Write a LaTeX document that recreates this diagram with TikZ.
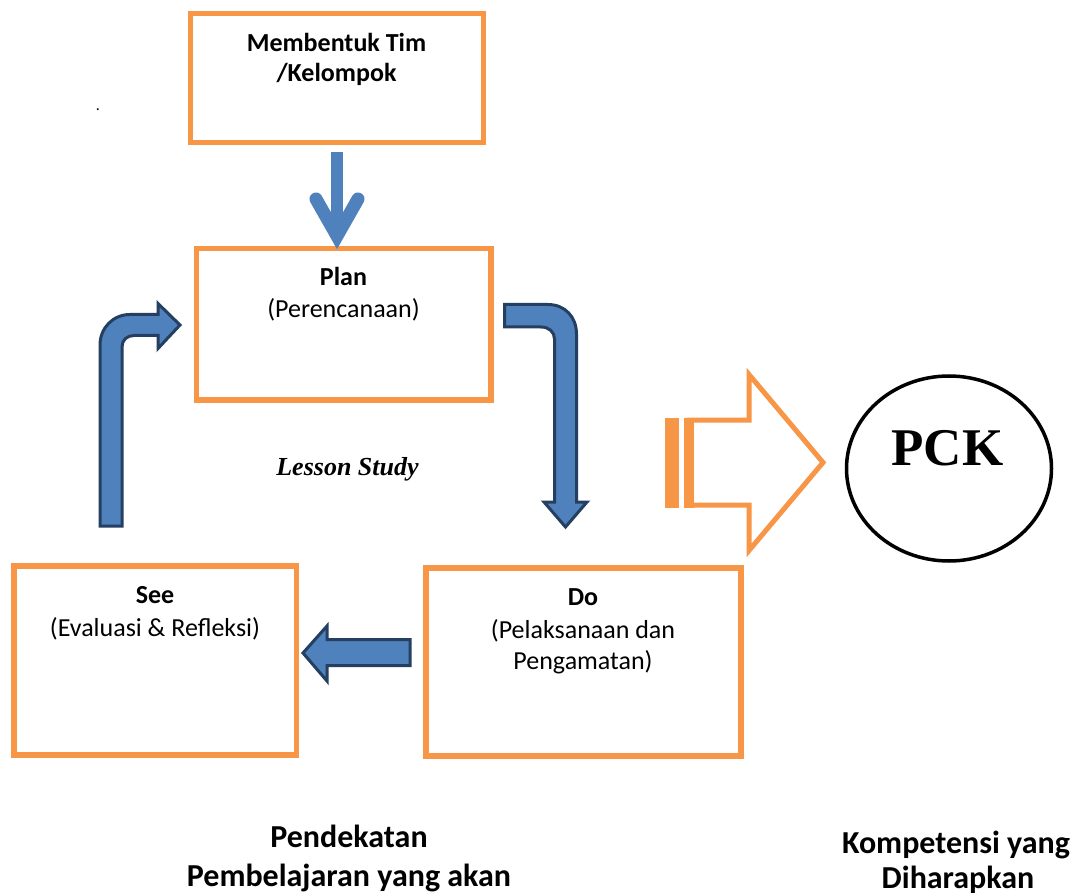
\documentclass[tikz,border=0pt]{standalone}
\usepackage{fontspec}
\usetikzlibrary{shapes.geometric}
\setmainfont{Carlito}
\newfontfamily\tnr{Liberation Serif}
\definecolor{boxorange}{HTML}{F79646}
\definecolor{arrowblue}{HTML}{4F81BD}
\definecolor{arrowline}{HTML}{243F60}
\begin{document}
\begin{tikzpicture}[x=1pt,y=-1pt,
  stagebox/.style={draw=boxorange, line width=5.5pt, inner sep=0pt, fill=white},
  lbl/.style={anchor=base, inner sep=0pt, font=\fontsize{26}{31}\selectfont},
  blbl/.style={lbl, font=\fontsize{26}{31}\selectfont\bfseries},
  biglbl/.style={anchor=base, inner sep=0pt, font=\fontsize{32}{38}\selectfont\bfseries},
  bentarrow/.style={fill=arrowblue, draw=arrowline, line width=3pt, line join=miter},
  hollow/.style={draw=boxorange, line width=5pt, line join=miter}]
\useasboundingbox (0,0) rectangle (1074,893);
\fill[white] (0,0) rectangle (1074,893);

% boxes
\node[stagebox, minimum width=293pt, minimum height=129pt] (team) at (336.8,77.9) {};
\node[stagebox, minimum width=294.5pt, minimum height=151.5pt] (plan) at (343.75,324.25) {};
\node[stagebox, minimum width=282.3pt, minimum height=189pt] (see) at (155.35,660.3) {};
\node[stagebox, minimum width=314.8pt, minimum height=187.8pt] (do) at (583.4,661.9) {};
\node[draw=black, line width=3.5pt, ellipse, minimum width=205pt, minimum height=185pt, inner sep=0pt] (pck) at (949,468.5) {};

% texts
\node[blbl] (t1) at (336.5,51.7) {Membentuk Tim};
\node[blbl] (t2) at (336.5,82) {/Kelompok};
\node[lbl, font=\fontsize{16}{18}\selectfont] (dot) at (98,111) {.};
\node[blbl] (p1) at (343.5,286) {Plan};
\node[lbl] (p2) at (343.5,318) {(Perencanaan)};
\node[anchor=base, inner sep=0pt, font=\fontsize{26}{31}\selectfont\tnr\bfseries\itshape] (ls) at (347.5,475) {Lesson Study};
\node[blbl] (s1) at (155,603) {See};
\node[lbl] (s2) at (155,636) {(Evaluasi \& Refleksi)};
\node[blbl] (d1) at (583,605) {Do};
\node[lbl] (d2) at (583,638) {(Pelaksanaan dan};
\node[lbl] (d3) at (583,669) {Pengamatan)};
\node[anchor=base, inner sep=0pt, font=\fontsize{53}{60}\selectfont\tnr\bfseries] (pcktext) at (947.5,465) {PCK};
\node[biglbl] (b1) at (349,847) {Pendekatan};
\node[biglbl] (b2) at (349,886) {Pembelajaran yang akan};
\node[biglbl] (c1) at (956,853) {Kompetensi yang};
\node[biglbl] (c2) at (958,888) {Diharapkan};

% top arrow
\draw[arrowblue, line width=12pt] (337,152) -- (337,236);
\draw[arrowblue, line width=13pt, line cap=round, line join=miter] (316,199) -- (337,236) -- (358,199);

% left bent arrow (up, then right)
\filldraw[bentarrow] (100,526) -- (100,345) .. controls (100,328) and (113,314.5) .. (130,314.5)
  -- (158,314.5) -- (158,303.5) -- (180,325) -- (158,348.5) -- (158,335.5) -- (134,335.5)
  .. controls (127,335.5) and (122,340) .. (122,347) -- (122,526) -- cycle;

% right bent arrow (right, then down)
\filldraw[bentarrow] (504.5,304.5) -- (548,304.5) .. controls (565,304.5) and (576.5,317) .. (576.5,334)
  -- (576.5,502) -- (587,502) -- (565.5,527) -- (544,502) -- (554.5,502) -- (554.5,339)
  .. controls (554.5,332) and (549,327) .. (541,327) -- (504.5,327) -- cycle;

% left arrow (Do -> See)
\filldraw[bentarrow] (410,639.5) -- (327,639.5) -- (327,626) -- (303,653) -- (327,681) -- (327,665.5) -- (410,665.5) -- cycle;

% striped hollow arrow
\draw[hollow] (689,420) -- (749,420) -- (749,374.5) -- (823,462.5) -- (749,550.5) -- (749,505) -- (689,505) -- cycle;
\fill[boxorange] (665,417.5) rectangle (679,507.5);
\fill[boxorange] (684,417.5) rectangle (694,507.5);
\end{tikzpicture}
\end{document}
